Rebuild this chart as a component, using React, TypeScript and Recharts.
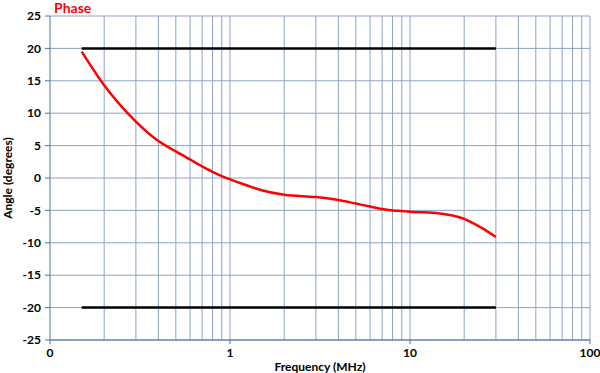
import React from 'react';
import { LineChart, Line, XAxis, YAxis, CartesianGrid, ReferenceLine, Label } from 'recharts';

const freqMHz = [0.15, 0.2, 0.3, 0.4, 0.5, 0.6, 0.7, 0.8, 0.9, 1, 1.2, 1.5, 2, 3, 4, 5, 6, 7, 8, 9, 10, 15, 20, 25, 30];
const phaseDeg = [19.5, 14.3, 8.7, 5.7, 4.1, 2.85, 1.8, 0.95, 0.3, -0.2, -1.0, -1.9, -2.6, -2.95, -3.4, -3.95, -4.4, -4.8, -5.0, -5.1, -5.2, -5.5, -6.3, -7.7, -9.1];

// limit lines
const limitFreq = [0.15, 30];
const upperLimit = [20, 20];
const lowerLimit = [-20, -20];

const xTicks = [0.1, 1, 10, 100];
const xTickLabels = ['0', '1', '10', '100'];
const yTicks = [-25, -20, -15, -10, -5, 0, 5, 10, 15, 20, 25];
const gridFreqs = [
  0.2, 0.3, 0.4, 0.5, 0.6, 0.7, 0.8, 0.9, 1,
  2, 3, 4, 5, 6, 7, 8, 9, 10,
  20, 30, 40, 50, 60, 70, 80, 90, 100,
];

const phaseData = freqMHz.map((f, i) => ({ f, v: phaseDeg[i] }));
const upperData = limitFreq.map((f, i) => ({ f, v: upperLimit[i] }));
const lowerData = limitFreq.map((f, i) => ({ f, v: lowerLimit[i] }));

const FONT = 'Lato, "Open Sans", sans-serif';
const GRID = '#8FA3C4';
const AXIS = '#4A6FA5';

export default function App() {
  return (
    <div style={{ position: 'absolute', left: 0, top: 0, width: 600, height: 373, background: '#fff', fontFamily: FONT }}>
      <LineChart width={600} height={373} margin={{ top: 16, right: 10, bottom: 0, left: 0 }}>
        <CartesianGrid vertical={false} stroke={GRID} strokeWidth={1} />
        {gridFreqs.map((g) => (
          <ReferenceLine key={g} x={g} stroke={GRID} strokeWidth={1} />
        ))}
        <XAxis
          dataKey="f"
          type="number"
          scale="log"
          domain={[0.1, 100]}
          ticks={xTicks}
          allowDataOverflow
          tickFormatter={(v: number) => xTickLabels[xTicks.indexOf(v)] ?? String(v)}
          height={33}
          stroke={AXIS}
          tickSize={4}
          tickMargin={4}
          tick={{ fill: '#000', fontSize: 12, fontWeight: 700, fontFamily: FONT }}
        >
          <Label value="Frequency (MHz)" position="insideBottom" offset={2} style={{ fill: '#000', fontSize: 12, fontWeight: 700, fontFamily: FONT }} />
        </XAxis>
        <YAxis
          dataKey="v"
          type="number"
          domain={[-25, 25]}
          ticks={yTicks}
          width={50}
          stroke={AXIS}
          tickSize={5}
          tickMargin={4}
          tick={{ fill: '#000', fontSize: 12, fontWeight: 700, fontFamily: FONT }}
        >
          <Label value="Angle (degrees)" angle={-90} position="insideLeft" offset={8} style={{ textAnchor: 'middle', fill: '#000', fontSize: 12, fontWeight: 700, fontFamily: FONT }} />
        </YAxis>
        <Line data={upperData} dataKey="v" stroke="#000" strokeWidth={2.5} dot={false} isAnimationActive={false} />
        <Line data={lowerData} dataKey="v" stroke="#000" strokeWidth={2.5} dot={false} isAnimationActive={false} />
        <Line data={phaseData} dataKey="v" type="monotone" stroke="#FF0000" strokeWidth={2.5} dot={false} isAnimationActive={false} />
      </LineChart>
      <div style={{ position: 'absolute', left: 54, top: 0, lineHeight: '16px', color: '#FF0000', fontWeight: 700, fontSize: 14 }}>Phase</div>
    </div>
  );
}
